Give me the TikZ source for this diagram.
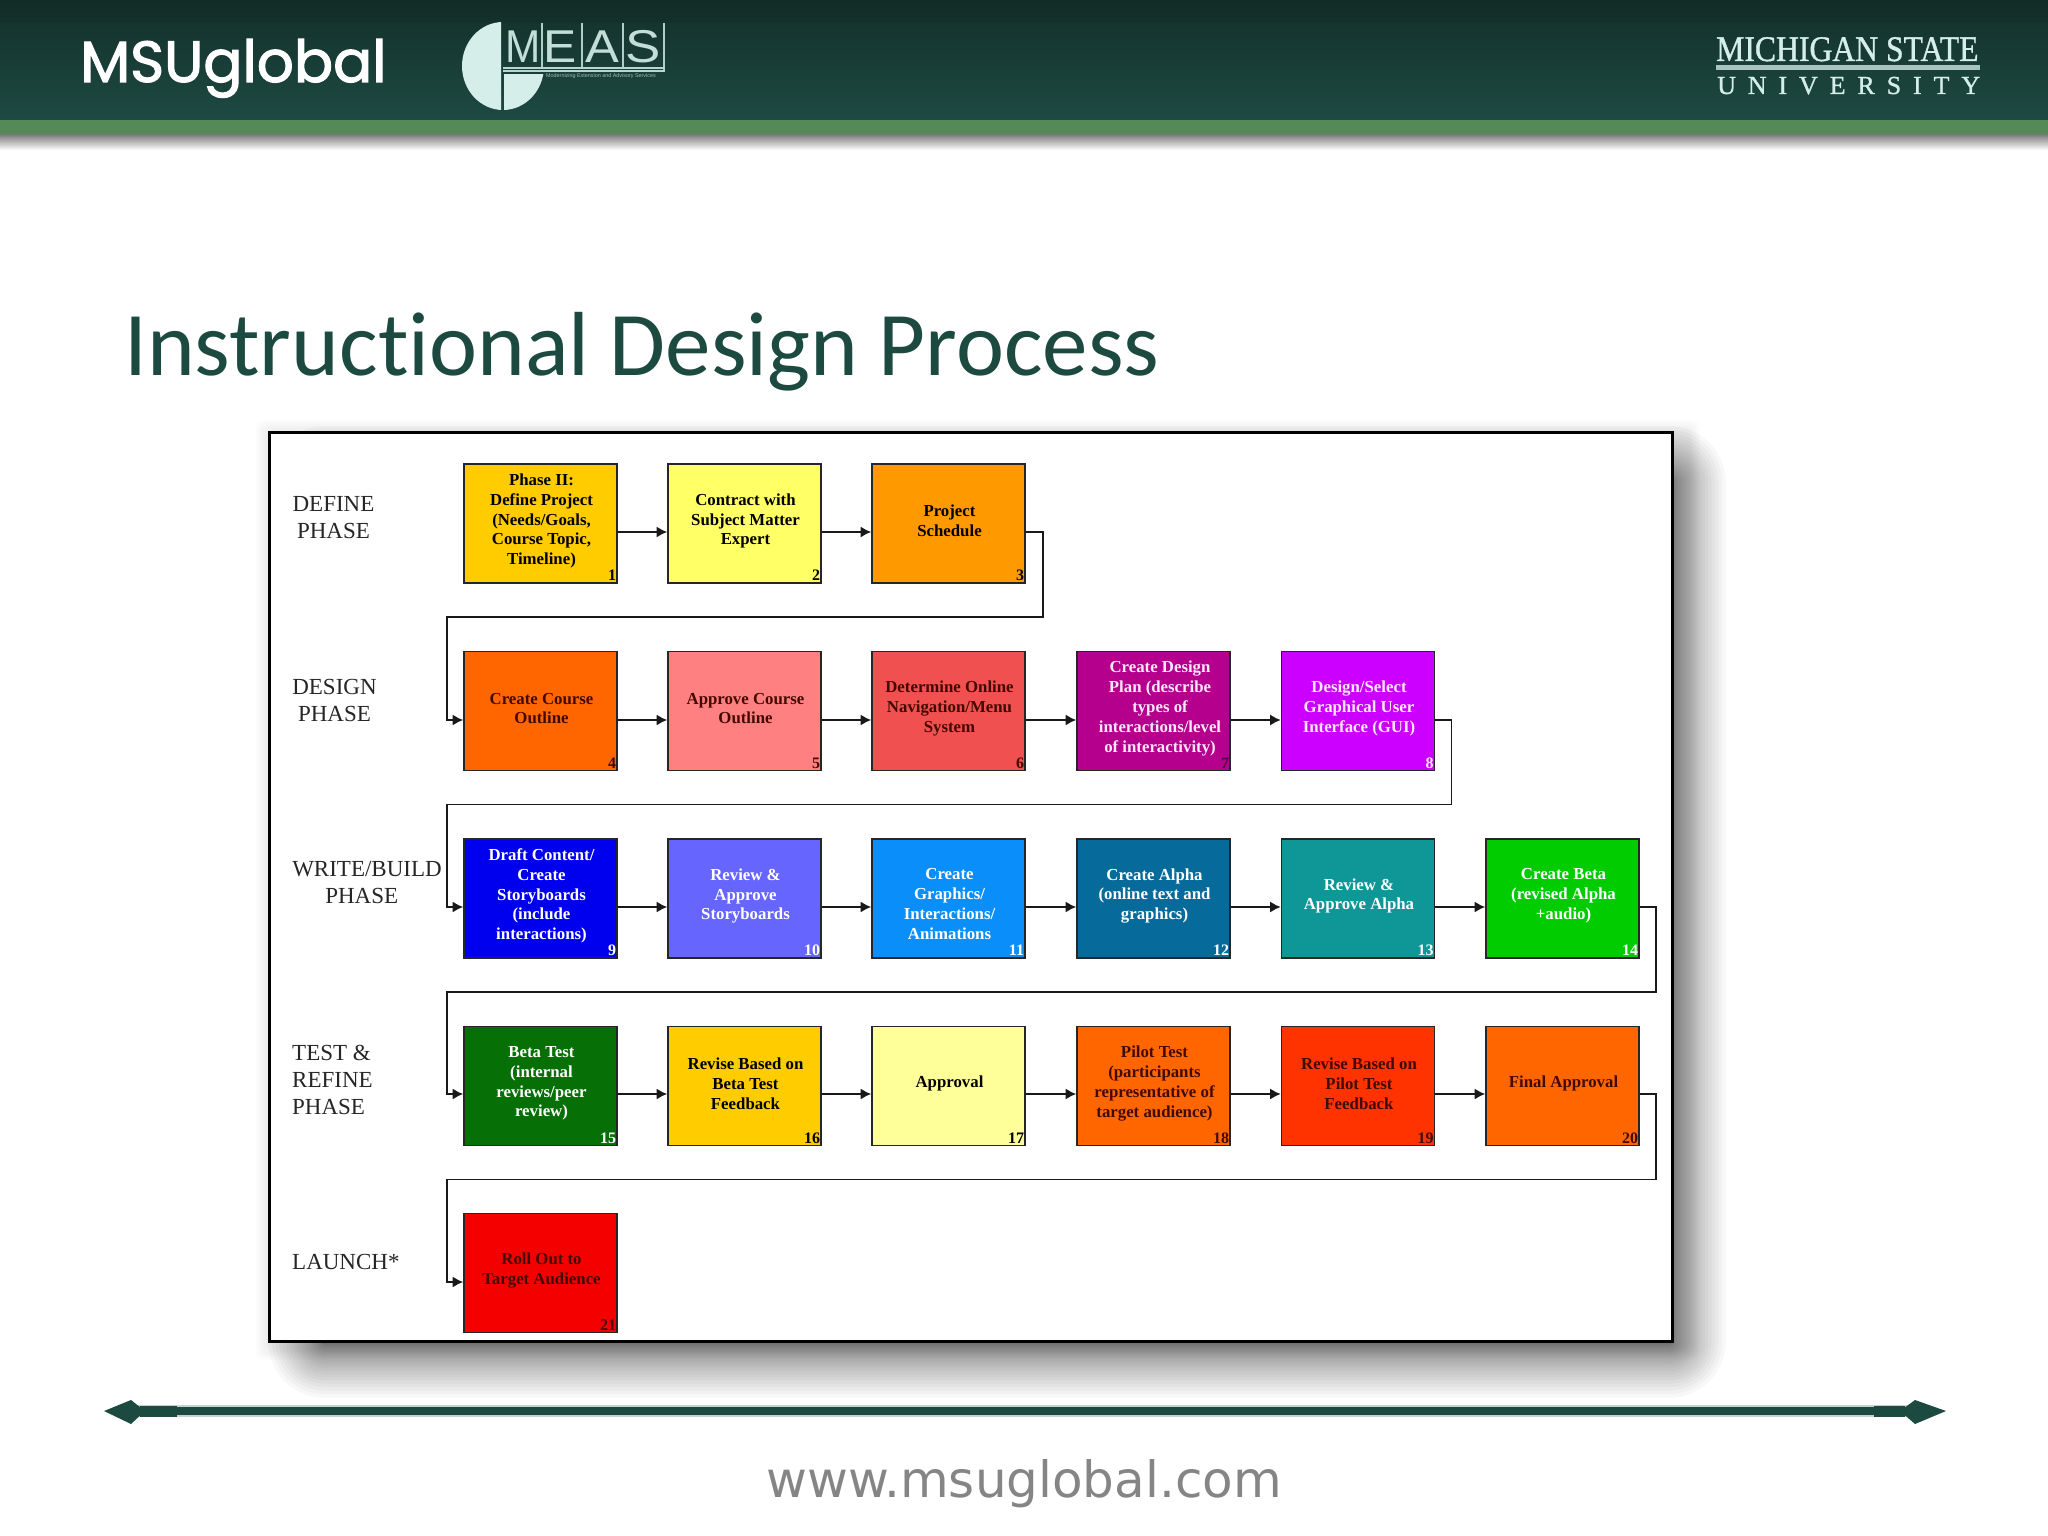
\documentclass[tikz,border=0pt]{standalone}
\usepackage{fontspec}
\usetikzlibrary{arrows.meta,calc}
\setmainfont{Liberation Serif}
\newfontfamily\titlefont{Carlito}
\newfontfamily\logofont{Poppins}
\newfontfamily\urlfont{DejaVu Sans}
\newfontfamily\measfont{Liberation Sans}
\definecolor{hdrA}{HTML}{122B26}
\definecolor{hdrB}{HTML}{173B34}
\definecolor{hdrC}{HTML}{1D4A42}
\definecolor{hdrband}{HTML}{558A58}
\definecolor{msugreen}{HTML}{1C4A40}
\definecolor{logolight}{HTML}{D5EEEA}
\definecolor{bA}{HTML}{FFCC00}\definecolor{bB}{HTML}{FFFF66}\definecolor{bC}{HTML}{FF9900}
\definecolor{bD}{HTML}{FF6600}\definecolor{bE}{HTML}{FF8080}\definecolor{bF}{HTML}{F05050}
\definecolor{bG}{HTML}{B4008C}\definecolor{bH}{HTML}{CC00FF}\definecolor{bI}{HTML}{0000EE}
\definecolor{bJ}{HTML}{6666FF}\definecolor{bK}{HTML}{0A8FFA}\definecolor{bL}{HTML}{066A9B}
\definecolor{bM}{HTML}{0F9696}\definecolor{bN}{HTML}{00CC00}\definecolor{bO}{HTML}{066F06}
\definecolor{bP}{HTML}{FFCC00}\definecolor{bQ}{HTML}{FFFF99}\definecolor{bR}{HTML}{FF6600}
\definecolor{bS}{HTML}{FF3300}\definecolor{bT}{HTML}{FF6600}\definecolor{bU}{HTML}{F40000}
\definecolor{tD}{HTML}{420A00}
\definecolor{tG}{HTML}{FBE8FB}
\tikzset{
  x=1pt,y=-1pt,
  stepbox/.style={draw=black!85,line width=1.6pt,minimum width=153pt,minimum height=119pt,inner sep=0pt,
    font=\fontsize{16.8}{19.8}\selectfont\bfseries},
  numlabel/.style={anchor=base east,inner sep=0pt,xshift=-1.5pt,yshift=3pt,font=\fontsize{16}{16}\selectfont\bfseries},
  phase/.style={font=\fontsize{23}{27}\selectfont,inner sep=0pt,text=black!85},
  link/.style={draw=black!90,line width=1.7pt,-{Latex[length=10.5pt,width=11pt]}},
  measletter/.style={anchor=base west,inner sep=0pt,text=logolight!90!msugreen,font=\measfont\fontsize{46}{46}\selectfont},
}
\newcommand{\stepnode}[7]{%
  \node[stepbox,fill=#4,text=#5] (#1) at (#2,#3)
    {\parbox{150pt}{\centering\leftskip=2pt plus 1fil\relax #6\par\vskip 5pt}};
  \node[numlabel,text=#5] (#1num) at (#1.south east) {#7};
}
\begin{document}
\begin{tikzpicture}
\useasboundingbox (0,0) rectangle (2048,1536);
\fill[white] (0,0) rectangle (2048,1536);
% header
\shade[top color=hdrA,bottom color=hdrA!60!hdrB] (0,0) rectangle (2048,24);
\shade[top color=hdrA!40!hdrB,bottom color=hdrC] (0,24) rectangle (2048,120);
\fill[hdrband] (0,120) rectangle (2048,135);
\shade[top color=black!50,bottom color=white] (0,135) rectangle (2048,150);
% MSU logo text
\node[anchor=base west,inner sep=0pt,text=white] (msu) at (80,82)
  {\logofont\fontsize{58}{58}\selectfont\addfontfeatures{FakeBold=2}MSUglobal};
% MEAS logo
\begin{scope}
  \clip (440,0) rectangle (501,120);
  \fill[logolight] (503,66) ellipse [x radius=41,y radius=44];
\end{scope}
\begin{scope}
  \clip (504,75) rectangle (560,120);
  \fill[logolight] (503,66) ellipse [x radius=41,y radius=44];
\end{scope}
\node[measletter] (measM) at (505,63) {\scalebox{.92}[1]{M}};
\node[measletter] (measE) at (543,63) {\scalebox{1.08}[1]{E}};
\node[measletter] (measA) at (585,63) {\scalebox{1.1}[1]{A}};
\node[measletter] (measS) at (625,63) {\scalebox{1.15}[1]{S}};
\draw[logolight!80!msugreen,line width=1.2pt] (542,23) -- (542,67) (582,23) -- (582,67) (623,23) -- (623,67) (664,23) -- (664,70);
\fill[logolight!85!msugreen] (503,67) rectangle (665,69);
\fill[logolight!85!msugreen] (503,70.5) rectangle (665,72.5);
\node[anchor=base west,inner sep=0pt,text=logolight!70!msugreen] (meassub) at (546,78)
  {\measfont\fontsize{5.4}{5.4}\selectfont Modernizing Extension and Advisory Services};
% Michigan State
\node[anchor=base west,inner sep=0pt,text=logolight] (mich) at (1716,61)
  {\fontsize{36}{36}\selectfont\addfontfeatures{FakeBold=1}\scalebox{.88}[1]{MICHIGAN STATE}};
\fill[logolight!75!msugreen] (1716,65) rectangle (1980,70);
\node[anchor=base west,inner sep=0pt,text=logolight] (univ) at (1717,94)
  {\fontsize{26}{26}\selectfont\addfontfeatures{LetterSpace=45.7,FakeBold=1}UNIVERSITY};
% title
\node[anchor=base west,inner sep=0pt,text=msugreen] (title) at (124,375)
  {\titlefont\fontsize{91}{91}\selectfont Instruct\kern0pt ional Design Process};
% frame shadow
\foreach \k in {0,...,5}{
  \fill[black,opacity=.012,rounded corners=8pt]
    (256+\k*2,420+\k*2) rectangle (1700-\k*2,1360-\k*2);
}
\foreach \k in {0,...,23}{
  \pgfmathsetmacro{\dd}{54*(1-\k/24)^1.7}
  \fill[black,opacity=.028,rounded corners=3pt+\dd pt]
    (322-\dd,480-\dd) rectangle (1672+\dd,1344+\dd);
}
\node[draw=black,line width=3pt,fill=white,minimum width=1403pt,minimum height=909pt,inner sep=0pt] (frame) at (970.5,887) {};
% phase labels
\node[phase,align=center] (ph1) at (333.5,518) {DEFINE\\PHASE};
\node[phase,align=center] (ph2) at (334.5,700.5) {DESIGN\\PHASE};
\node[phase,align=center] (ph3) at (367,883) {WRITE/BUILD\\PHASE\hspace*{10.5pt}};
\node[phase,align=left,anchor=west] (ph4) at (292,1079.5) {TEST \&\\REFINE\\PHASE};
\node[phase,anchor=west] (ph5) at (292,1262) {LAUNCH*};
% boxes
\def\ca{540.5}\def\cb{744.5}\def\cc{948.5}\def\cd{1153.5}\def\ce{1358}\def\cf{1562.5}
\def\ra{523.5}\def\rb{711}\def\rc{898.5}\def\rd{1086}\def\re{1273}
\stepnode{n1}{\ca}{\ra}{bA}{black}{Phase II:\\Define Project\\(Needs/Goals,\\Course Topic,\\Timeline)}{1}
\stepnode{n2}{\cb}{\ra}{bB}{black}{Contract with\\Subject Matter\\Expert}{2}
\stepnode{n3}{\cc}{\ra}{bC}{black}{Project\\Schedule}{3}
\stepnode{n4}{\ca}{\rb}{bD}{tD}{Create Course\\Outline}{4}
\stepnode{n5}{\cb}{\rb}{bE}{tD}{Approve Course\\Outline}{5}
\stepnode{n6}{\cc}{\rb}{bF}{tD}{Determine Online\\Navigation/Menu\\System}{6}
\stepnode{n7}{\cd}{\rb}{bG}{tG}{\leftskip=13pt plus 1fil\relax Create Design\\Plan (describe\\types of\\interactions/level\\of interactivity)}{}
\node[numlabel,text=black!60!bG] (n7num2) at (n7.south east) {7};
\stepnode{n8}{\ce}{\rb}{bH}{tG}{Design/Select\\Graphical User\\Interface (GUI)}{8}
\stepnode{n9}{\ca}{\rc}{bI}{white}{Draft Content/\\Create\\Storyboards\\(include\\interactions)}{9}
\stepnode{n10}{\cb}{\rc}{bJ}{white}{Review \&\\Approve\\Storyboards}{10}
\stepnode{n11}{\cc}{\rc}{bK}{white}{\vspace*{16pt}Create\\Graphics/\\Interactions/\\Animations}{11}
\stepnode{n12}{\cd}{\rc}{bL}{white}{Create Alpha\\(online text and\\graphics)}{12}
\stepnode{n13}{\ce}{\rc}{bM}{white}{Review \&\\Approve Alpha}{13}
\stepnode{n14}{\cf}{\rc}{bN}{white}{Create Beta\\(revised Alpha\\+audio)}{14}
\stepnode{n15}{\ca}{\rd}{bO}{white}{Beta Test\\(internal\\reviews/peer\\review)}{15}
\stepnode{n16}{\cb}{\rd}{bP}{black}{Revise Based on\\Beta Test\\Feedback}{16}
\stepnode{n17}{\cc}{\rd}{bQ}{black}{Approval}{17}
\stepnode{n18}{\cd}{\rd}{bR}{tD}{Pilot Test\\(participants\\representative of\\target audience)}{18}
\stepnode{n19}{\ce}{\rd}{bS}{tD}{Revise Based on\\Pilot Test\\Feedback}{19}
\stepnode{n20}{\cf}{\rd}{bT}{tD}{Final Approval}{20}
\stepnode{n21}{\ca}{\re}{bU}{tD}{Roll Out to\\Target Audience}{21}
% connector levels
\coordinate (l1) at (0,532);
\coordinate (l2) at (0,720);
\coordinate (l3) at (0,907);
\coordinate (l4) at (0,1094);
\coordinate (l5) at (0,1282);
\coordinate (lane) at (447,0);
\coordinate (t1) at (1043,617);
\coordinate (t2) at (1451.5,804.5);
\coordinate (t3) at (1656,992);
\coordinate (t4) at (1656,1179.5);
% straight links
\draw[link] (n1.east |- l1) -- (n2.west |- l1);
\draw[link] (n2.east |- l1) -- (n3.west |- l1);
\draw[link] (n4.east |- l2) -- (n5.west |- l2);
\draw[link] (n5.east |- l2) -- (n6.west |- l2);
\draw[link] (n6.east |- l2) -- (n7.west |- l2);
\draw[link] (n7.east |- l2) -- (n8.west |- l2);
\draw[link] (n9.east |- l3) -- (n10.west |- l3);
\draw[link] (n10.east |- l3) -- (n11.west |- l3);
\draw[link] (n11.east |- l3) -- (n12.west |- l3);
\draw[link] (n12.east |- l3) -- (n13.west |- l3);
\draw[link] (n13.east |- l3) -- (n14.west |- l3);
\draw[link] (n15.east |- l4) -- (n16.west |- l4);
\draw[link] (n16.east |- l4) -- (n17.west |- l4);
\draw[link] (n17.east |- l4) -- (n18.west |- l4);
\draw[link] (n18.east |- l4) -- (n19.west |- l4);
\draw[link] (n19.east |- l4) -- (n20.west |- l4);
% return links
\draw[link] (n3.east |- l1) -| (t1) -- (lane |- t1) -- (lane |- l2) -- (n4.west |- l2);
\draw[link] (n8.east |- l2) -| (t2) -- (lane |- t2) -- (lane |- l3) -- (n9.west |- l3);
\draw[link] (n14.east |- l3) -| (t3) -- (lane |- t3) -- (lane |- l4) -- (n15.west |- l4);
\draw[link] (n20.east |- l4) -| (t4) -- (lane |- t4) -- (lane |- l5) -- (n21.west |- l5);
% bottom rule
\coordinate (ruleL) at (130,1411);
\coordinate (ruleR) at (1915,1411);
\draw[msugreen!25,line width=12pt] (ruleL) -- (ruleR);
\draw[msugreen,line width=8pt] (ruleL) -- (ruleR);
\fill[msugreen] (104,1411) -- (131,1400) -- (145,1411) -- (131,1424) -- cycle;
\fill[msugreen] (140,1405.5) rectangle (177,1416.5);
\fill[msugreen] (1946,1411) -- (1915,1400) -- (1900,1411) -- (1915,1424) -- cycle;
\fill[msugreen] (1874,1405.5) rectangle (1905,1416.5);
% url
\node[anchor=base,inner sep=0pt,text=black!48] (url) at (1024,1497)
  {\urlfont\fontsize{50}{50}\selectfont www.msuglobal.com};
\end{tikzpicture}
\end{document}
